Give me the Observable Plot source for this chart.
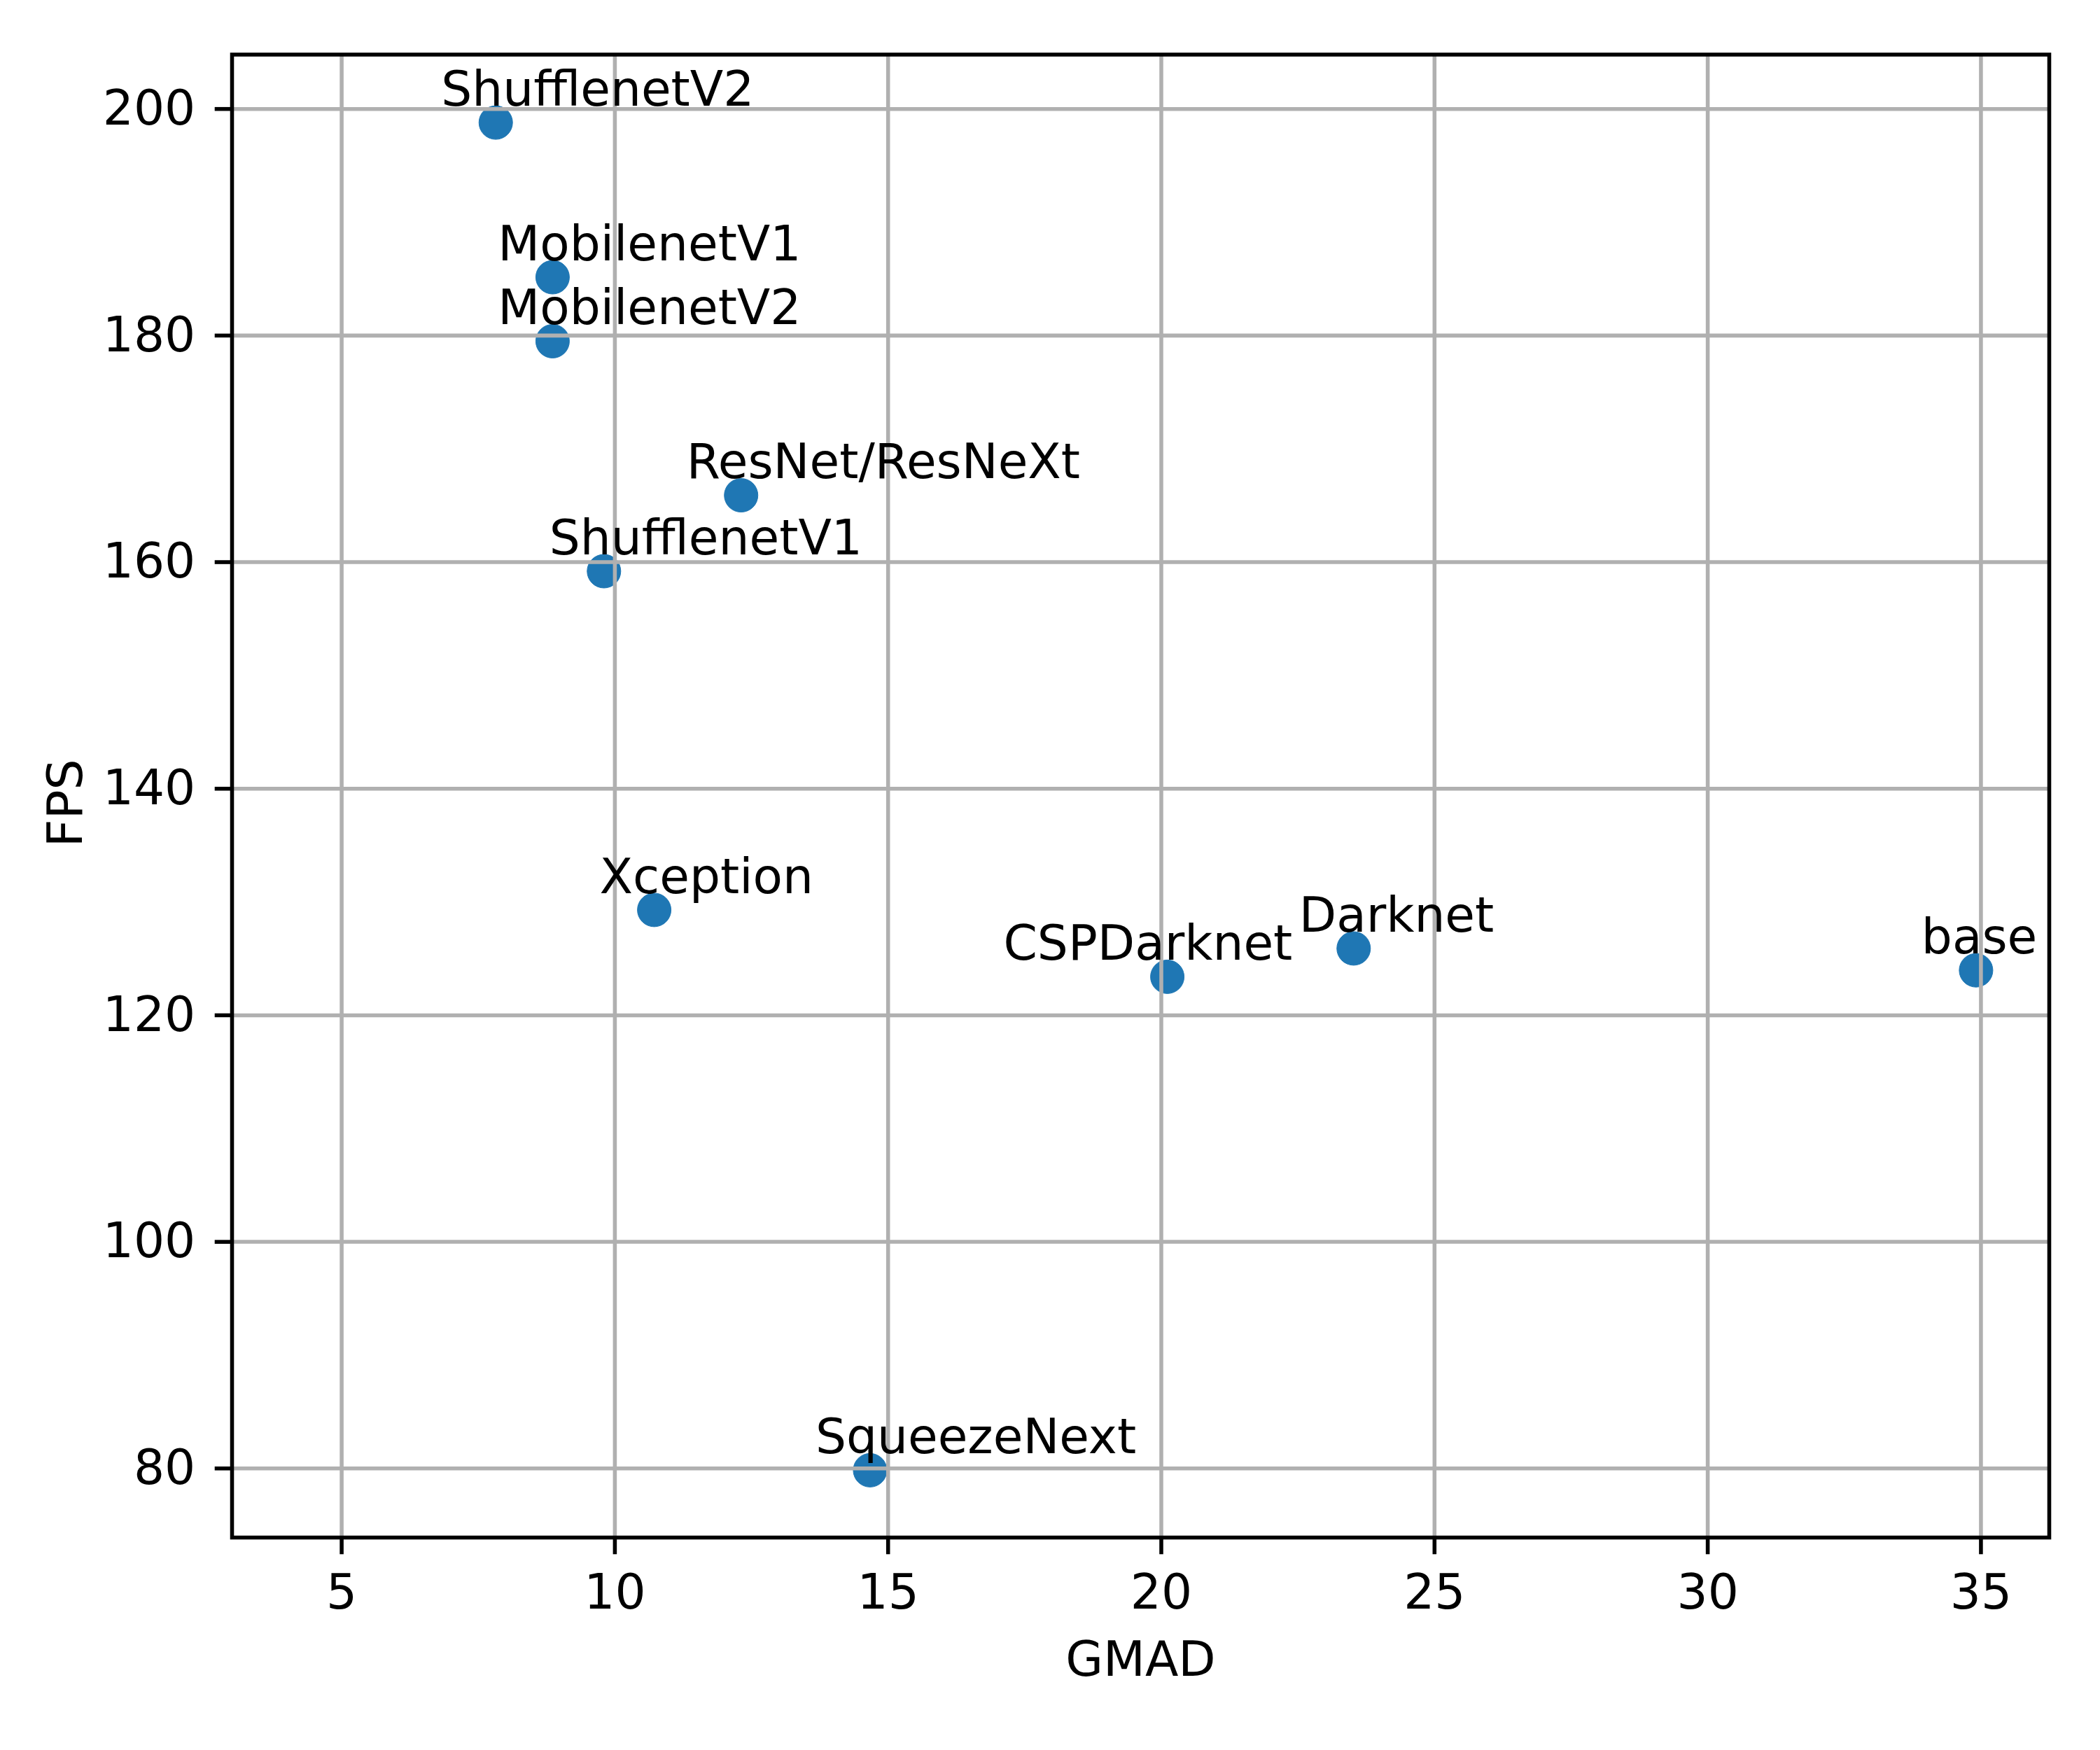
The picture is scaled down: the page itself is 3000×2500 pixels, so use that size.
<!DOCTYPE html>
<html>
<head>
<meta charset="utf-8">
<script src="https://cdn.jsdelivr.net/npm/d3@7"></script>
<script src="https://cdn.jsdelivr.net/npm/@observablehq/plot@0.6"></script>
<style>
  html, body { margin: 0; padding: 0; background: #ffffff; }
</style>
</head>
<body>
<div id="chart"></div>
<script>
const names = ["ShufflenetV2", "MobilenetV1", "MobilenetV2", "ResNet/ResNeXt", "ShufflenetV1", "Xception", "CSPDarknet", "Darknet", "base", "SqueezeNext"];
const gmad = [7.82, 8.86, 8.86, 12.31, 9.80, 10.72, 20.11, 23.52, 34.91, 14.67];
const fps = [198.8, 185.15, 179.5, 165.9, 159.2, 129.3, 123.4, 125.9, 123.97, 79.84];
const xTicks = [5, 10, 15, 20, 25, 30, 35];
const yTicks = [80, 100, 120, 140, 160, 180, 200];
const xLabel = "GMAD";
const yLabel = "FPS";

const data = names.map((name, i) => ({name, gmad: gmad[i], fps: fps[i]}));

const FS = 69.4;
const LW = 5.56;

const chart = Plot.plot({
  width: 3000,
  height: 2500,
  marginLeft: 331,
  marginRight: 73,
  marginTop: 77.5,
  marginBottom: 304,
  style: {fontFamily: "DejaVu Sans", fontSize: FS + "px", background: "#ffffff", color: "#000000"},
  x: {domain: [2.994, 36.25], label: null},
  y: {domain: [73.9, 204.8], label: null},
  marks: [
    Plot.dot(data, {x: "gmad", y: "fps", r: 24, fill: "#1f77b4", stroke: "#1f77b4", strokeWidth: 1}),
    Plot.gridX(xTicks, {stroke: "#b0b0b0", strokeOpacity: 1, strokeWidth: LW}),
    Plot.gridY(yTicks, {stroke: "#b0b0b0", strokeOpacity: 1, strokeWidth: LW}),
    Plot.text(data, {
      x: d => d.gmad - (d.name === "CSPDarknet" ? 3 : 1),
      y: "fps",
      text: "name",
      textAnchor: "start",
      lineAnchor: "bottom",
      dy: -24.3,
      fontSize: FS,
      fill: "#000000"
    }),
    Plot.axisX(xTicks, {tickSize: 24.3, tickPadding: 28, fontSize: FS, strokeWidth: LW, label: null, tickFormat: d => String(d)}),
    Plot.axisY(yTicks, {tickSize: 24.3, tickPadding: 28, fontSize: FS, strokeWidth: LW, label: null, tickFormat: d => String(d)}),
    Plot.frame({stroke: "#000000", strokeWidth: LW}),
    Plot.text([xLabel], {frameAnchor: "bottom", textAnchor: "middle", lineAnchor: "top", dy: 148.7, fontSize: FS, fill: "#000000"}),
    Plot.text([yLabel], {frameAnchor: "left", textAnchor: "middle", rotate: -90, lineAnchor: "bottom", dx: 116 - 331, dy: 10, fontSize: FS, fill: "#000000"})
  ]
});

document.getElementById("chart").appendChild(chart);
</script>
</body>
</html>
